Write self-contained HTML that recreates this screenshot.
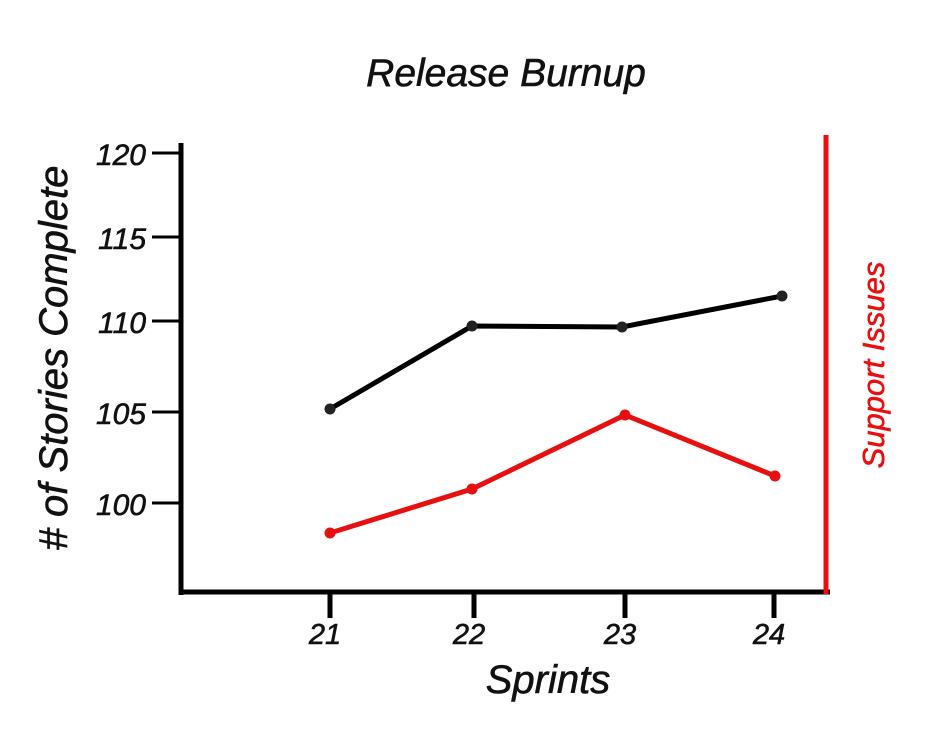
<!DOCTYPE html>
<html><head><style>body{margin:0;background:#fff} text{stroke-width:0.6}</style></head><body>
<svg width="940" height="727" xmlns="http://www.w3.org/2000/svg" font-family="Liberation Sans, sans-serif" font-style="italic">
<text x="506" y="86" font-size="39" text-anchor="middle" fill="#111" stroke="#111">Release Burnup</text>
<line x1="181" y1="143" x2="181" y2="595" stroke="#000" stroke-width="5"/>
<line x1="179" y1="592" x2="830" y2="592" stroke="#000" stroke-width="5"/>
<line x1="826" y1="135" x2="826" y2="594" stroke="#e61010" stroke-width="5"/>
<g stroke="#000" stroke-width="3">
<line x1="152" y1="153" x2="181" y2="153"/>
<line x1="152" y1="237" x2="181" y2="237"/>
<line x1="152" y1="321" x2="181" y2="321"/>
<line x1="152" y1="412" x2="181" y2="412"/>
<line x1="152" y1="503" x2="181" y2="503"/>
</g>
<g font-size="30" text-anchor="end" fill="#111" stroke="#111">
<text x="146" y="165">120</text>
<text x="146" y="249">115</text>
<text x="146" y="333">110</text>
<text x="146" y="424">105</text>
<text x="146" y="515">100</text>
</g>
<g stroke="#000" stroke-width="5">
<line x1="330" y1="593" x2="330" y2="618"/>
<line x1="474" y1="593" x2="474" y2="618"/>
<line x1="625" y1="593" x2="625" y2="618"/>
<line x1="774" y1="593" x2="774" y2="618"/>
</g>
<g font-size="29" text-anchor="middle" fill="#111" stroke="#111">
<text x="325" y="644">21</text>
<text x="469" y="644">22</text>
<text x="620" y="644">23</text>
<text x="769" y="644">24</text>
</g>
<text x="548" y="693" font-size="40" text-anchor="middle" fill="#111" stroke="#111">Sprints</text>
<text transform="translate(67,358) rotate(-90)" font-size="40" text-anchor="middle" fill="#111" stroke="#111">#  of Stories Complete</text>
<text transform="translate(884,365) rotate(-90)" font-size="31" text-anchor="middle" fill="#e61010" stroke="#e61010">Support Issues</text>
<polyline points="330,409 472,326 622,327 782,296" fill="none" stroke="#000" stroke-width="5"/>
<g fill="#222"><circle cx="330" cy="409" r="5.5"/><circle cx="472" cy="326" r="5.5"/><circle cx="622" cy="327" r="5.5"/><circle cx="782" cy="296" r="5.5"/></g>
<polyline points="330,533 472,489 625,415 775,476" fill="none" stroke="#e61010" stroke-width="5"/>
<g fill="#e61010"><circle cx="330" cy="533" r="5.5"/><circle cx="472" cy="489" r="5.5"/><circle cx="625" cy="415" r="5.5"/><circle cx="775" cy="476" r="5.5"/></g>
</svg>
</body></html>
